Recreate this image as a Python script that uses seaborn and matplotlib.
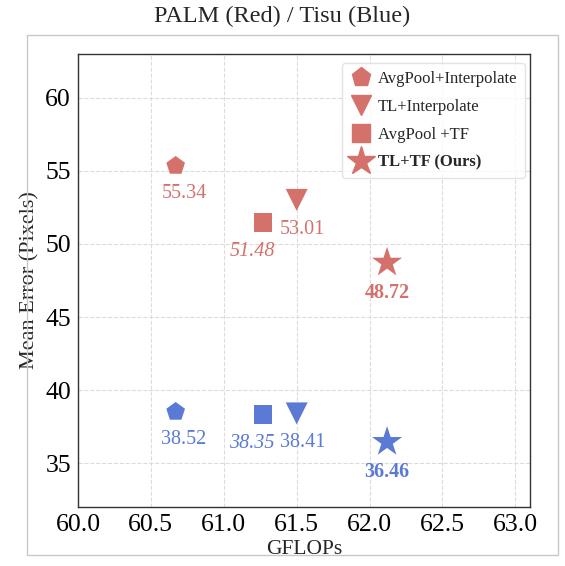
import matplotlib
matplotlib.use("Agg")
import matplotlib.pyplot as plt
import seaborn as sns
import pandas as pd
from matplotlib.lines import Line2D
from matplotlib.patches import Rectangle

# data
methods = ['AvgPool+Interpolate', 'TL+Interpolate', 'AvgPool +TF', 'TL+TF (Ours)']
gflops = [60.67, 61.5, 61.27, 62.12]
palm_err = [55.34, 53.01, 51.48, 48.72]
tisu_err = [38.52, 38.41, 38.35, 36.46]
x_ticks = [60.0, 60.5, 61.0, 61.5, 62.0, 62.5, 63.0]
y_ticks = [35, 40, 45, 50, 55, 60]

red = '#d4716b'
blue = '#5b7ad6'
markers = {'AvgPool+Interpolate': 'p', 'TL+Interpolate': 'v',
           'AvgPool +TF': 's', 'TL+TF (Ours)': '*'}
sizes = {'AvgPool+Interpolate': 200, 'TL+Interpolate': 250,
         'AvgPool +TF': 180, 'TL+TF (Ours)': 520}

df = pd.DataFrame({
    'method': methods * 2,
    'gflops': gflops * 2,
    'error': palm_err + tisu_err,
    'dataset': ['PALM'] * 4 + ['Tisu'] * 4,
})

sns.set_style('whitegrid')
plt.rcParams['font.family'] = ['Liberation Serif', 'DejaVu Serif']

fig = plt.figure(figsize=(5.65, 5.66), dpi=100)
ax = fig.add_axes([0.138, 0.104, 0.8, 0.801])
fig.patches.append(Rectangle((0.047, 0.02), 0.94, 0.918, transform=fig.transFigure,
                             fill=False, edgecolor='#c8c8c8', linewidth=1.0))

for m in methods:
    sub = df[df['method'] == m]
    sns.scatterplot(data=sub, x='gflops', y='error', hue='dataset',
                    palette={'PALM': red, 'Tisu': blue}, marker=markers[m],
                    s=sizes[m], linewidth=0, legend=False, ax=ax, zorder=3)

# value labels: (offset in points, style, weight)
label_pos = {
    'AvgPool+Interpolate': ((6, -20), 'normal', 'normal'),
    'TL+Interpolate': ((4, -21), 'normal', 'normal'),
    'AvgPool +TF': ((-8, -21), 'italic', 'normal'),
    'TL+TF (Ours)': ((0, -22), 'normal', 'bold'),
}
for i, m in enumerate(methods):
    off, st, wt = label_pos[m]
    for val, col in [(palm_err[i], red), (tisu_err[i], blue)]:
        ax.annotate(f'{val:.2f}', (gflops[i], val), xytext=off, textcoords='offset points',
                    ha='center', va='center', fontsize=14.5, color=col,
                    style=st, weight=wt)

ax.set_xlim(60.0, 63.1)
ax.set_ylim(32, 63)
ax.set_xticks(x_ticks)
ax.set_yticks(y_ticks)
ax.set_xticklabels([f'{t:.1f}' for t in x_ticks])
ax.tick_params(labelsize=18.5, colors='black', length=3, width=0.8, pad=2)
ax.tick_params(color='#999999')
ax.grid(True, linestyle='--', color='#dcdcdc', linewidth=0.8)
for sp in ax.spines.values():
    sp.set_edgecolor('#333333')
    sp.set_linewidth(1.0)

ax.set_xlabel('GFLOPs', fontsize=15.5, labelpad=3)
ax.set_ylabel('Mean Error (Pixels)', fontsize=16, labelpad=4)
fig.suptitle('PALM (Red) / Tisu (Blue)', fontsize=17.5, y=0.99)

handles = [Line2D([], [], linestyle='none', marker=markers[m], color=red,
                  markersize={'p': 14, 'v': 15, 's': 13, '*': 21}[markers[m]])
           for m in methods]
leg = ax.legend(handles, methods, loc='upper right', fontsize=12, frameon=True,
                borderpad=0.45, labelspacing=0.72, handletextpad=0.3,
                handlelength=1.4, borderaxespad=0.3,
                bbox_to_anchor=(1.0, 0.99))
leg.get_texts()[3].set_weight('bold')
leg.get_frame().set_edgecolor('#dddddd')

fig.savefig('out.png', dpi=100)
